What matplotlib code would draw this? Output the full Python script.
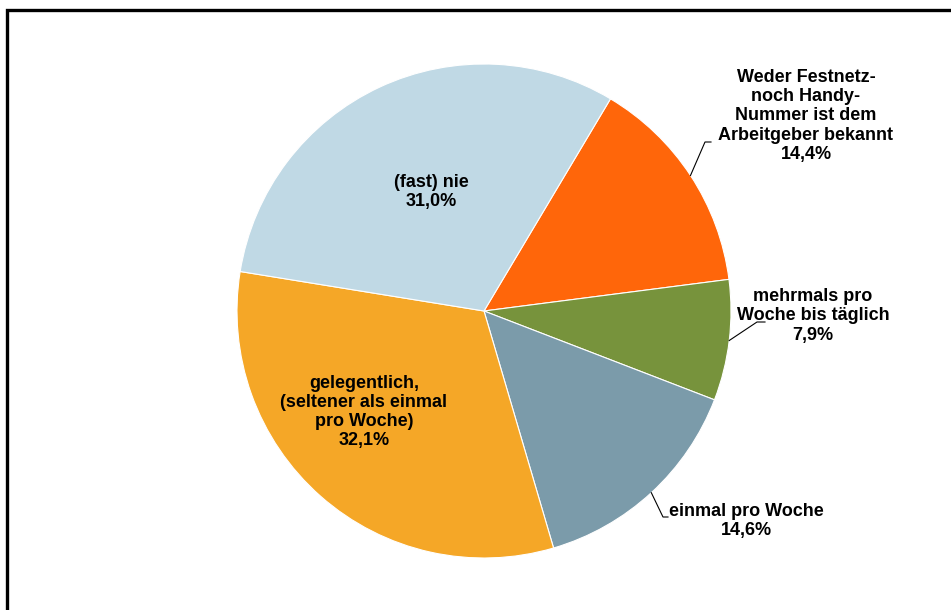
import numpy as np
import matplotlib
matplotlib.use('Agg')
import matplotlib.pyplot as plt
from matplotlib.patches import Rectangle

plt.rcParams['font.family'] = ['Liberation Sans', 'DejaVu Sans']

labels = ['Weder Festnetz-\nnoch Handy-\nNummer ist dem\nArbeitgeber bekannt',
          'mehrmals pro\nWoche bis täglich',
          'einmal pro Woche',
          'gelegentlich,\n(seltener als einmal\npro Woche)',
          '(fast) nie']
values = [14.4, 7.9, 14.6, 32.1, 31.0]
colors = ['#FF660A', '#77933C', '#7B9BAA', '#F5A727', '#C0D9E5']

fig = plt.figure(figsize=(9.51, 6.10), dpi=100)
ax = fig.add_axes([0, 0, 1, 1])

# pie drawn in pixel-like data units so labels are easy to place
cx, cy, r = 484, 299, 247
wedges, _ = ax.pie(values, colors=colors, startangle=59.2, counterclock=False,
                   center=(cx, cy), radius=r,
                   wedgeprops=dict(edgecolor='white', linewidth=0.8))
ax.set_xlim(0, 951)
ax.set_ylim(0, 610)
ax.axis('off')

def pct(v):
    return f'{v:.1f}%'.replace('.', ',')

# label positions (text centre) and leader elbow points
text_pos = [(806, 494), (813, 294), (746, 89), (364, 198), (431, 418)]
elbows = [((705, 468), (711, 468)),
          ((757, 288), (765, 288)),
          ((663, 93), (668, 93)),
          None, None]

for w, lab, v, tp, el in zip(wedges, labels, values, text_pos, elbows):
    ax.text(tp[0], tp[1], lab + '\n' + pct(v), ha='center', va='center',
            fontsize=13, fontweight='bold', color='black', linespacing=1.17)
    if el is not None:
        mid = np.deg2rad((w.theta1 + w.theta2) / 2)
        rim = (cx + r * np.cos(mid), cy + r * np.sin(mid))
        ax.plot([rim[0], el[0][0], el[1][0]], [rim[1], el[0][1], el[1][1]],
                color='black', lw=0.8)

# outer frame (cut off on right and bottom like the original)
fig.patches.append(Rectangle((7 / 951, -0.1), 1.2, (600 / 610) + 0.1,
                             transform=fig.transFigure, fill=False,
                             edgecolor='black', linewidth=2.4))

fig.savefig('out.png', dpi=100)
